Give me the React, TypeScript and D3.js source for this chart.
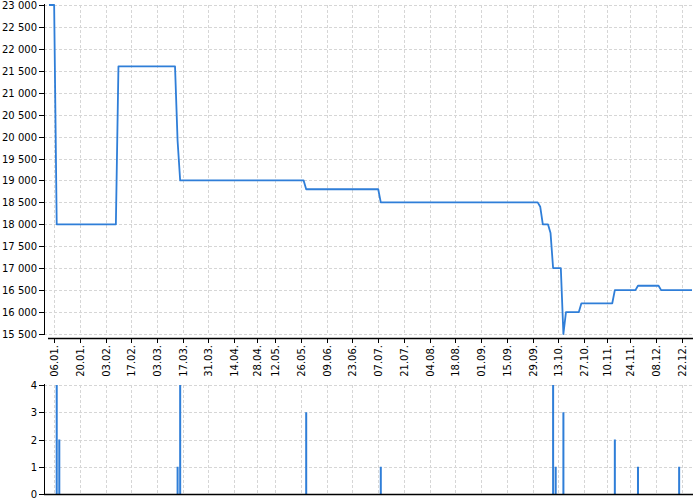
import React from "react";
import * as d3 from "d3";

// price history 2014, the x axis is ordinal: only days present in the data
const missingDays = ["2014-01-01", "2014-04-21", "2014-05-01", "2014-05-02", "2014-05-08",
  "2014-10-28", "2014-11-17", "2014-12-24", "2014-12-25", "2014-12-26"];

const priceDates = ["2014-01-02", "2014-01-06", "2014-01-07", "2014-02-07", "2014-02-10",
  "2014-03-12", "2014-03-13", "2014-03-14", "2014-05-27", "2014-05-28", "2014-07-07",
  "2014-07-08", "2014-10-01", "2014-10-02", "2014-10-03", "2014-10-07", "2014-10-08",
  "2014-10-09", "2014-10-14", "2014-10-15", "2014-10-16", "2014-10-23", "2014-10-24",
  "2014-11-12", "2014-11-13", "2014-11-26", "2014-11-27", "2014-12-09", "2014-12-10",
  "2014-12-31"];
const priceValues = [23000, 23000, 18000, 18000, 21600, 21600, 19900, 19000, 19000, 18800,
  18800, 18500, 18500, 18400, 18000, 18000, 17800, 17000, 17000, 15500, 16000, 16000,
  16200, 16200, 16500, 16500, 16600, 16600, 16500, 16500];

const changeDates = ["2014-01-07", "2014-01-08", "2014-03-13", "2014-03-14", "2014-05-28",
  "2014-07-08", "2014-10-09", "2014-10-10", "2014-10-15", "2014-11-13", "2014-11-27",
  "2014-12-19"];
const changeCounts = [4, 2, 1, 4, 3, 1, 4, 1, 3, 2, 1, 1];

const tickLabels = ["06.01", "20.01", "03.02", "17.02", "03.03", "17.03", "31.03", "14.04",
  "28.04", "12.05", "26.05", "09.06", "23.06", "07.07", "21.07", "04.08", "18.08", "01.09",
  "15.09", "29.09", "13.10", "27.10", "10.11", "24.11", "08.12", "22.12"];

const priceTicks = d3.range(15500, 23001, 500);
const countTicks = [0, 1, 2, 3, 4];

const BLUE = "#2f7ed8";
const GRID = "#d6d6d6";
const FONT = "DejaVu Sans, sans-serif";

const iso = d3.timeFormat("%Y-%m-%d");
const parseIso = d3.timeParse("%Y-%m-%d");
const parseTick = d3.timeParse("%d.%m.%Y");
const fmt = d3.formatLocale({ decimal: ",", thousands: " ", grouping: [3], currency: ["", ""] }).format(",");

// ordinal day index
const days = d3.timeDay
  .range(parseIso("2014-01-02")!, parseIso("2015-01-01")!)
  .filter(d => d.getDay() !== 0 && d.getDay() !== 6 && !missingDays.includes(iso(d)));
const dayIndex = new Map(days.map((d, i) => [iso(d), i]));

export default function App() {
  const x = d3.scaleLinear().domain([0, days.length - 1]).range([49, 692]);
  const xd = (s: string) => x(dayIndex.get(s) ?? 0);

  const yTop = d3.scaleLinear().domain([15500, 23000]).range([334, 5]);
  const yBot = d3.scaleLinear().domain([0, 4]).range([494, 385]);

  const line = d3.line<number>()
    .x((_, i) => xd(priceDates[i]))
    .y(v => yTop(v));

  const ticks = tickLabels.map(t => ({ label: t + ".", x: x(dayIndex.get(iso(parseTick(t + ".2014")!)) ?? 0) }));

  const axisY = 338;

  return (
    <svg width={700} height={500} style={{ position: "absolute", left: 0, top: 0 }}
      fontFamily={FONT} fontSize={10}>
      {/* grid */}
      <g stroke={GRID} strokeDasharray="3,2" strokeWidth={1}>
        {priceTicks.map(v => (
          <line key={"h" + v} x1={44} x2={693} y1={Math.round(yTop(v)) + 0.5} y2={Math.round(yTop(v)) + 0.5} />
        ))}
        {countTicks.slice(1).map(v => (
          <line key={"hb" + v} x1={44} x2={693} y1={Math.round(yBot(v)) + 0.5} y2={Math.round(yBot(v)) + 0.5} />
        ))}
        {ticks.map(t => (
          <g key={"v" + t.label}>
            <line x1={Math.round(t.x) + 0.5} x2={Math.round(t.x) + 0.5} y1={5} y2={334} />
            <line x1={Math.round(t.x) + 0.5} x2={Math.round(t.x) + 0.5} y1={385} y2={494} />
          </g>
        ))}
      </g>

      {/* price line */}
      <path d={line(priceValues) ?? ""} fill="none" stroke={BLUE} strokeWidth={1.8} strokeLinejoin="round" />

      {/* change counts */}
      {changeCounts.map((c, i) => (
        <rect key={"b" + i} x={xd(changeDates[i]) - 1} width={2}
          y={yBot(c)} height={yBot(0) - yBot(c)} fill={BLUE} />
      ))}

      {/* top y axis */}
      <line x1={44.5} x2={44.5} y1={4} y2={335} stroke="#000" />
      {priceTicks.map(v => (
        <g key={"yt" + v} transform={`translate(0,${Math.round(yTop(v)) + 0.5})`}>
          <line x1={39} x2={44} stroke="#000" />
          <text x={37} dy="0.35em" textAnchor="end" fill="#000">{fmt(v)}</text>
        </g>
      ))}

      {/* x axis */}
      <line x1={48} x2={693} y1={axisY + 0.5} y2={axisY + 0.5} stroke="#000" strokeWidth={1.3} />
      {ticks.map(t => (
        <g key={"xt" + t.label} transform={`translate(${Math.round(t.x) + 0.5},${axisY})`}>
          <line y1={0} y2={5} stroke="#000" />
          <text transform="rotate(-90)" x={-7} dy="0.35em" textAnchor="end" fill="#000">{t.label}</text>
        </g>
      ))}

      {/* bottom y axis */}
      <line x1={44.5} x2={44.5} y1={384} y2={494} stroke="#000" />
      {countTicks.map(v => (
        <g key={"yb" + v} transform={`translate(0,${Math.round(yBot(v)) + 0.5})`}>
          <line x1={39} x2={44} stroke="#000" />
          <text x={37} dy="0.35em" textAnchor="end" fill="#000">{v}</text>
        </g>
      ))}
      <line x1={44} x2={693} y1={494.5} y2={494.5} stroke="#000" strokeWidth={1.3} />
    </svg>
  );
}
